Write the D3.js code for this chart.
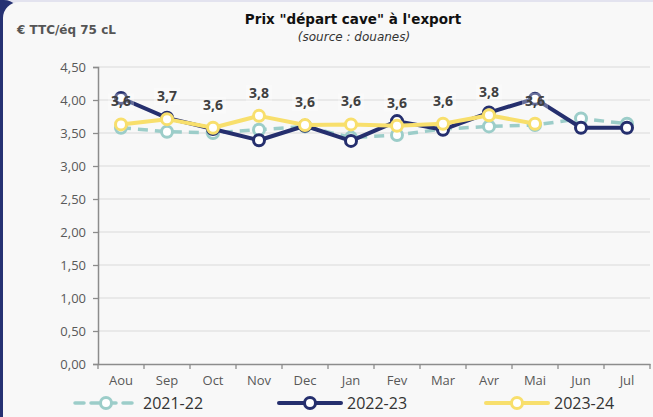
<!DOCTYPE html>
<html>
<head>
<meta charset="utf-8">
<script src="https://cdn.jsdelivr.net/npm/d3@7"></script>
<style>
  body { margin: 0; background: #ffffff; }
  svg { display: block; font-family: "Open Sans", sans-serif; }
</style>
</head>
<body>
<div id="chart-area"></div>
<script>
let months = ["Aou", "Sep", "Oct", "Nov", "Dec", "Jan", "Fev", "Mar", "Avr", "Mai", "Jun", "Jul"];
let yTicks = [0, 0.5, 1, 1.5, 2, 2.5, 3, 3.5, 4, 4.5];

let s2122 = [3.58, 3.52, 3.50, 3.55, 3.60, 3.43, 3.47, 3.56, 3.60, 3.62, 3.72, 3.64];
let s2223 = [4.03, 3.73, 3.56, 3.39, 3.61, 3.38, 3.68, 3.55, 3.81, 4.02, 3.58, 3.58];
let s2324 = [3.63, 3.71, 3.58, 3.76, 3.62, 3.63, 3.61, 3.64, 3.77, 3.64];
let labels2324 = ["3,6", "3,7", "3,6", "3,8", "3,6", "3,6", "3,6", "3,6", "3,8", "3,6"];

let W = 653, H = 417;
let margin = { top: 67, right: 3, bottom: 53, left: 98 };
let width = W - margin.left - margin.right,
  height = H - margin.top - margin.bottom;

let svg = d3.select("#chart-area")
  .append("svg")
  .attr("width", W)
  .attr("height", H);

// card background
svg.append("rect").attr("x", 0).attr("y", 0).attr("width", W).attr("height", H).attr("fill", "#e3e3ef");
svg.append("rect").attr("x", -20).attr("y", 0).attr("width", 40).attr("height", H).attr("rx", 16).attr("fill", "#263273");
svg.append("rect").attr("x", 3).attr("y", 2).attr("width", W + 20).attr("height", H + 20).attr("rx", 16).attr("fill", "#f8f8f8");

// titles
svg.append("text").attr("x", 353).attr("y", 24).attr("text-anchor", "middle")
  .attr("font-family", "DejaVu Sans")
  .attr("font-size", 13.5).attr("font-weight", "bold").attr("fill", "#111")
  .text("Prix \"départ cave\" à l'export");
svg.append("text").attr("x", 354).attr("y", 41).attr("text-anchor", "middle")
  .attr("font-family", "DejaVu Sans")
  .attr("font-size", 12).attr("font-style", "italic").attr("fill", "#333")
  .text("(source : douanes)");
svg.append("text").attr("x", 17).attr("y", 34)
  .attr("font-family", "DejaVu Sans")
  .attr("font-size", 12).attr("font-weight", "bold").attr("fill", "#555")
  .text("€ TTC/éq 75 cL");

let g = svg.append("g")
  .attr("transform", "translate(" + margin.left + "," + margin.top + ")");

let xScale = d3.scaleBand().domain(months).range([0, width]);
let yScale = d3.scaleLinear().domain([0, 4.5]).range([height, 0]);
let xc = function(i) { return xScale(months[i]) + xScale.bandwidth() / 2; };

// grid
g.selectAll(".grid").data(yTicks.slice(1)).enter().append("line")
  .attr("x1", 0).attr("x2", width)
  .attr("y1", d => yScale(d)).attr("y2", d => yScale(d))
  .attr("stroke", "#d9d9d9").attr("stroke-width", 1.2);

// y axis
let yAxis = g.append("g").call(d3.axisLeft(yScale).tickValues(yTicks).tickSize(5).tickPadding(7)
  .tickFormat(d => d3.format(".2f")(d).replace(".", ",")));
yAxis.select(".domain").attr("stroke", "#8c8c8c").attr("stroke-width", 1.5);
yAxis.selectAll(".tick line").attr("stroke", "#8c8c8c").attr("stroke-width", 1.3);
yAxis.selectAll("text").attr("font-size", 13).attr("fill", "#595959").attr("font-family", "Open Sans");

// x axis
let xAxis = g.append("g").attr("transform", "translate(0," + height + ")")
  .call(d3.axisBottom(xScale).tickSize(0).tickPadding(12));
xAxis.select(".domain").attr("stroke", "#8c8c8c").attr("stroke-width", 1.5);
xAxis.selectAll("text").attr("font-size", 13).attr("fill", "#595959").attr("font-family", "Open Sans");
g.selectAll(".xtick").data(d3.range(months.length + 1)).enter().append("line")
  .attr("x1", i => i * xScale.step()).attr("x2", i => i * xScale.step())
  .attr("y1", height).attr("y2", height + 5)
  .attr("stroke", "#8c8c8c").attr("stroke-width", 1.3);

let line = d3.line().x((d, i) => xc(i)).y(d => yScale(d));

let series = [
  { data: s2122, color: "#9ccdc9", width: 3.5, dash: "10,7" },
  { data: s2223, color: "#252f6e", width: 4, dash: null },
  { data: s2324, color: "#f8df6c", width: 4, dash: null }
];

series.forEach(function(s) {
  g.append("path").datum(s.data)
    .attr("d", line)
    .attr("fill", "none")
    .attr("stroke", s.color)
    .attr("stroke-width", s.width)
    .attr("stroke-dasharray", s.dash)
    .attr("stroke-linejoin", "round");
  g.selectAll(null).data(s.data).enter().append("circle")
    .attr("cx", (d, i) => xc(i))
    .attr("cy", d => yScale(d))
    .attr("r", 5.5)
    .attr("fill", "#fff")
    .attr("stroke", s.color)
    .attr("stroke-width", 3);
});

// data labels (2023-24), with a faint white box behind
let lbl = g.selectAll(".lbl").data(s2324).enter().append("g")
  .attr("transform", (d, i) => "translate(" + xc(i) + "," + (yScale(d) - 18) + ")");
lbl.append("rect").attr("x", -13).attr("y", -13).attr("width", 26).attr("height", 17)
  .attr("fill", "#fff").attr("opacity", 0.3);
lbl.append("text")
  .attr("text-anchor", "middle")
  .attr("font-size", 14)
  .attr("font-weight", "bold")
  .attr("fill", "#404040")
  .text((d, i) => labels2324[i]);

// legend
let legend = [
  { name: "2021-22", x: 75, color: "#9ccdc9", dash: "9,7", w: 3.5 },
  { name: "2022-23", x: 279, color: "#252f6e", dash: null, w: 4 },
  { name: "2023-24", x: 486, color: "#f8df6c", dash: null, w: 4 }
];
let lg = svg.append("g");
legend.forEach(function(l) {
  let ly = 403;
  lg.append("line").attr("x1", l.x).attr("x2", l.x + 62).attr("y1", ly).attr("y2", ly)
    .attr("stroke", l.color).attr("stroke-width", l.w).attr("stroke-dasharray", l.dash)
    .attr("stroke-linecap", "round");
  lg.append("circle").attr("cx", l.x + 31).attr("cy", ly).attr("r", 5.5)
    .attr("fill", "#fff").attr("stroke", l.color).attr("stroke-width", 3);
  lg.append("text").attr("x", l.x + 68).attr("y", ly + 6)
    .attr("font-size", 16).attr("fill", "#333").text(l.name);
});
</script>
</body>
</html>
